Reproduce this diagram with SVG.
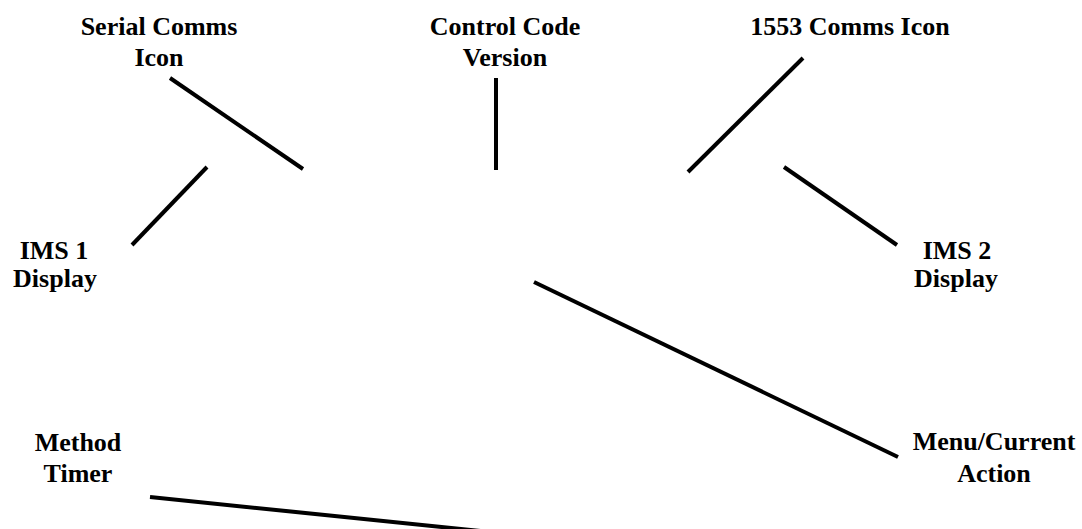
<svg xmlns="http://www.w3.org/2000/svg" width="1082" height="529" viewBox="0 0 1082 529">
<style>
.lbl{font-family:"Liberation Serif","Times New Roman",serif;font-weight:bold;font-size:26px;fill:#000;text-anchor:middle}
.ln{stroke:#000;stroke-width:4;fill:none}
</style>
<rect width="1082" height="529" fill="#fff"/>
<g id="serial-comms"><text class="lbl" x="159" y="35">Serial Comms</text><text class="lbl" x="159" y="66">Icon</text></g>
<g id="control-code"><text class="lbl" x="505" y="35">Control Code</text><text class="lbl" x="505" y="66">Version</text></g>
<g id="comms-1553"><text class="lbl" x="850" y="35">1553 Comms Icon</text></g>
<g id="ims1"><text class="lbl" x="54" y="259">IMS 1</text><text class="lbl" x="55" y="287">Display</text></g>
<g id="ims2"><text class="lbl" x="957" y="259">IMS 2</text><text class="lbl" x="956" y="287">Display</text></g>
<g id="method-timer"><text class="lbl" x="78" y="451">Method</text><text class="lbl" x="78" y="482">Timer</text></g>
<g id="menu-action"><text class="lbl" x="994" y="450">Menu/Current</text><text class="lbl" x="994" y="482">Action</text></g>
<g id="connectors">
<line class="ln" x1="170" y1="78" x2="303" y2="169"/>
<line class="ln" x1="207" y1="167" x2="132" y2="245"/>
<line class="ln" x1="496" y1="78" x2="496" y2="170"/>
<line class="ln" x1="803" y1="58" x2="688" y2="172"/>
<line class="ln" x1="784" y1="167" x2="897" y2="245"/>
<line class="ln" x1="534" y1="282" x2="898" y2="457"/>
<line class="ln" x1="150" y1="497" x2="500" y2="533"/>
</g>
</svg>
